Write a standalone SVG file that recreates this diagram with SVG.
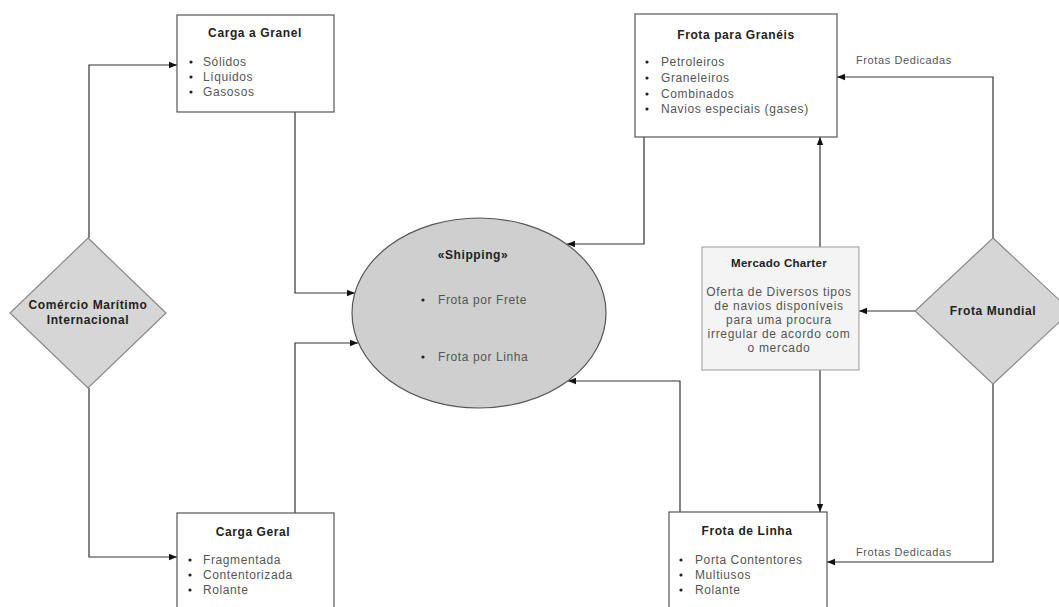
<svg xmlns="http://www.w3.org/2000/svg" width="1059" height="607" viewBox="0 0 1059 607">
  <defs>
    <marker id="arrow" viewBox="0 0 10 10" refX="10" refY="5" markerWidth="8" markerHeight="8" orient="auto" markerUnits="userSpaceOnUse">
      <path d="M0,1 L10,5 L0,9 Z" fill="#111"/>
    </marker>
  </defs>
  <style>
    text { font-family: "Liberation Sans", Arial, sans-serif; }
    .box { fill: #ffffff; stroke: #555; stroke-width: 1.2; }
    .charter { fill: #f4f4f4; stroke: #999; stroke-width: 1; }
    .diamond { fill: #d6d6d6; stroke: #888; stroke-width: 1.2; }
    .hub { fill: #cfcfcf; stroke: #555; stroke-width: 1.2; }
    .title { font-size: 12px; font-weight: bold; fill: #222; text-anchor: middle; letter-spacing: 0.6px; }
    .item { font-size: 12px; fill: #555; letter-spacing: 0.6px; }
    .dot { fill: #222; }
    .body { font-size: 12px; fill: #555; text-anchor: middle; letter-spacing: 0.7px; }
    .label { font-size: 11px; fill: #555; letter-spacing: 0.6px; }
    .edge { fill: none; stroke: #333; stroke-width: 1.2; marker-end: url(#arrow); }
  </style>
  <rect width="1059" height="607" fill="#ffffff"/>

  <g id="connectors">
    <path class="edge" d="M89,238 V65 H177"/>
    <path class="edge" d="M89,388 V557 H177"/>
    <path class="edge" d="M295,112 V293 H355"/>
    <path class="edge" d="M295,513 V343 H358"/>
    <path class="edge" d="M644,137 V244 H567"/>
    <path class="edge" d="M680,512 V381 H568"/>
    <path class="edge" d="M820,247 V137"/>
    <path class="edge" d="M820,370 V512"/>
    <path class="edge" d="M915,311 H859"/>
    <path class="edge" d="M993,238 V77 H837"/>
    <path class="edge" d="M993,383 V562 H827"/>
    <text class="label" x="856" y="64">Frotas Dedicadas</text>
    <text class="label" x="856" y="556">Frotas Dedicadas</text>
  </g>

  <g id="carga-granel">
    <rect class="box" x="177" y="15" width="157" height="97"/>
    <text class="title" x="255" y="37">Carga a Granel</text>
    <circle class="dot" cx="191" cy="62" r="1.6"/><text class="item" x="203" y="66">Sólidos</text>
    <circle class="dot" cx="191" cy="77" r="1.6"/><text class="item" x="203" y="81">Líquidos</text>
    <circle class="dot" cx="191" cy="92" r="1.6"/><text class="item" x="203" y="96">Gasosos</text>
  </g>

  <g id="frota-graneis">
    <rect class="box" x="635" y="14" width="202" height="123"/>
    <text class="title" x="736" y="39">Frota para Granéis</text>
    <circle class="dot" cx="647" cy="62" r="1.6"/><text class="item" x="661" y="66">Petroleiros</text>
    <circle class="dot" cx="647" cy="78" r="1.6"/><text class="item" x="661" y="82">Graneleiros</text>
    <circle class="dot" cx="647" cy="94" r="1.6"/><text class="item" x="661" y="98">Combinados</text>
    <circle class="dot" cx="647" cy="109" r="1.6"/><text class="item" x="661" y="113">Navios especiais (gases)</text>
  </g>

  <g id="comercio">
    <polygon class="diamond" points="88,238 166,313 88,388 10,313"/>
    <text class="title" x="88" y="309">Comércio Marítimo</text>
    <text class="title" x="88" y="324">Internacional</text>
  </g>

  <g id="shipping">
    <ellipse class="hub" cx="479" cy="313" rx="127" ry="95"/>
    <text class="title" x="473" y="259">«Shipping»</text>
    <circle class="dot" cx="423" cy="300" r="1.6"/><text class="item" x="438" y="304">Frota por Frete</text>
    <circle class="dot" cx="423" cy="357" r="1.6"/><text class="item" x="438" y="361">Frota por Linha</text>
  </g>

  <g id="mercado-charter">
    <rect class="charter" x="702" y="247" width="157" height="123"/>
    <text class="title" x="779" y="267" style="font-size:11.5px;letter-spacing:0.3px">Mercado Charter</text>
    <text class="body" x="779" y="296">Oferta de Diversos tipos</text>
    <text class="body" x="779" y="310">de navios disponíveis</text>
    <text class="body" x="779" y="324">para uma procura</text>
    <text class="body" x="779" y="338">irregular de acordo com</text>
    <text class="body" x="779" y="352">o mercado</text>
  </g>

  <g id="frota-mundial">
    <polygon class="diamond" points="993,238 1071,311 993,384 915,311"/>
    <text class="title" x="993" y="315">Frota Mundial</text>
  </g>

  <g id="carga-geral">
    <rect class="box" x="177" y="513" width="157" height="110"/>
    <text class="title" x="253" y="536">Carga Geral</text>
    <circle class="dot" cx="190" cy="560" r="1.6"/><text class="item" x="203" y="564">Fragmentada</text>
    <circle class="dot" cx="190" cy="575" r="1.6"/><text class="item" x="203" y="579">Contentorizada</text>
    <circle class="dot" cx="190" cy="590" r="1.6"/><text class="item" x="203" y="594">Rolante</text>
  </g>

  <g id="frota-linha">
    <rect class="box" x="669" y="512" width="158" height="110"/>
    <text class="title" x="747" y="535">Frota de Linha</text>
    <circle class="dot" cx="681" cy="560" r="1.6"/><text class="item" x="695" y="564">Porta Contentores</text>
    <circle class="dot" cx="681" cy="575" r="1.6"/><text class="item" x="695" y="579">Multiusos</text>
    <circle class="dot" cx="681" cy="590" r="1.6"/><text class="item" x="695" y="594">Rolante</text>
  </g>
</svg>
